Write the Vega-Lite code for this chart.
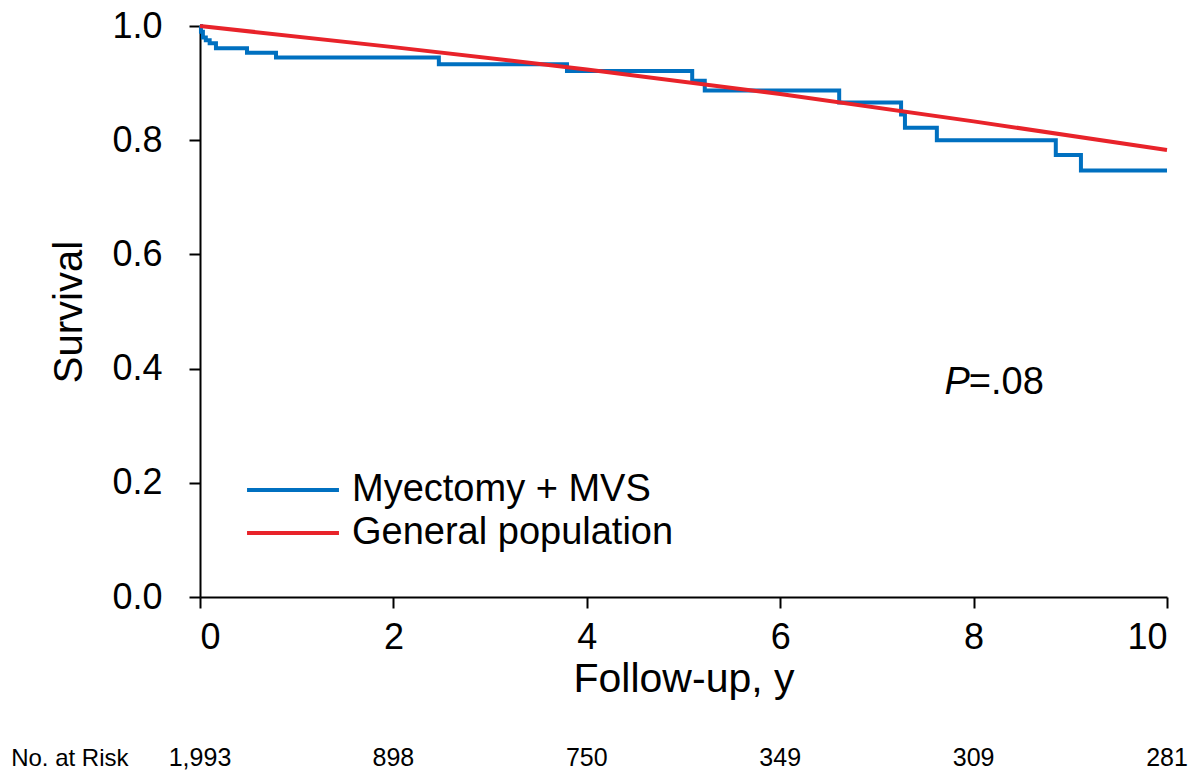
{
  "$schema": "https://vega.github.io/schema/vega-lite/v6.json",
  "background": "white",
  "padding": {"left": 10, "top": 8, "right": 0, "bottom": 0},
  "config": {
    "view": {"stroke": null},
    "font": "Liberation Sans",
    "axis": {"grid": false, "domainColor": "black", "domainWidth": 2, "tickColor": "black", "tickWidth": 2, "tickSize": 11, "labelColor": "black", "titleColor": "black", "labelFont": "Liberation Sans", "titleFont": "Liberation Sans", "titleFontWeight": "normal"}
  },
  "datasets": {
    "km": [
      {"t": 0, "s": 1.0},
      {"t": 0.01, "s": 0.99},
      {"t": 0.03, "s": 0.98},
      {"t": 0.06, "s": 0.975},
      {"t": 0.1, "s": 0.97},
      {"t": 0.165, "s": 0.961},
      {"t": 0.486, "s": 0.953},
      {"t": 0.786, "s": 0.945},
      {"t": 2.47, "s": 0.933},
      {"t": 3.795, "s": 0.921},
      {"t": 5.09, "s": 0.904},
      {"t": 5.22, "s": 0.887},
      {"t": 6.61, "s": 0.866},
      {"t": 7.25, "s": 0.845},
      {"t": 7.29, "s": 0.822},
      {"t": 7.62, "s": 0.8},
      {"t": 8.85, "s": 0.774},
      {"t": 9.11, "s": 0.747},
      {"t": 10.0, "s": 0.747}
    ],
    "pop": [
      {"t": 0, "s": 1.0},
      {"t": 2, "s": 0.963},
      {"t": 4, "s": 0.924},
      {"t": 6, "s": 0.881},
      {"t": 8, "s": 0.833},
      {"t": 10, "s": 0.783}
    ],
    "risk": [
      {"row": "No. at Risk", "t": 0, "n": "1,993"},
      {"row": "No. at Risk", "t": 2, "n": "898"},
      {"row": "No. at Risk", "t": 4, "n": "750"},
      {"row": "No. at Risk", "t": 6, "n": "349"},
      {"row": "No. at Risk", "t": 8, "n": "309"},
      {"row": "No. at Risk", "t": 10, "n": "281"}
    ]
  },
  "vconcat": [
    {
      "width": 967,
      "height": 571,
      "layer": [
        {
          "data": {"name": "km"},
          "transform": [{"calculate": "'Myectomy + MVS'", "as": "series"}],
          "mark": {"type": "line", "interpolate": "step-after", "strokeWidth": 4},
          "encoding": {
            "x": {"field": "t", "type": "quantitative", "scale": {"domain": [0, 10], "nice": false}, "axis": {"values": [0, 2, 4, 6, 8, 10], "format": "d", "title": "Follow-up, y", "labelFontSize": 36, "titleFontSize": 41, "labelPadding": 12, "titlePadding": 4}},
            "y": {"field": "s", "type": "quantitative", "scale": {"domain": [0, 1], "nice": false}, "axis": {"values": [0, 0.2, 0.4, 0.6, 0.8, 1.0], "format": ".1f", "title": "Survival", "labelFontSize": 36, "titleFontSize": 40, "labelPadding": 27, "titlePadding": 22}},
            "color": {"field": "series", "type": "nominal", "scale": {"domain": ["Myectomy + MVS", "General population"], "range": ["#0070C0", "#E8232A"]}, "legend": {"title": null, "orient": "none", "legendX": 74, "legendY": 445, "symbolType": "M -5 0 L 5 0", "symbolSize": 338, "symbolStrokeWidth": 4, "labelFontSize": 38, "labelColor": "black", "labelLimit": 0, "labelOffset": 40, "rowPadding": 5, "padding": 0}}
          }
        },
        {
          "data": {"name": "pop"},
          "transform": [{"calculate": "'General population'", "as": "series"}],
          "mark": {"type": "line", "strokeWidth": 4},
          "encoding": {
            "x": {"field": "t", "type": "quantitative"},
            "y": {"field": "s", "type": "quantitative"},
            "color": {"field": "series", "type": "nominal"}
          }
        },
        {
          "data": {"values": [{"label": "P"}]},
          "mark": {"type": "text", "align": "right", "baseline": "middle", "fontSize": 38, "fontStyle": "italic", "color": "black", "dx": 1},
          "encoding": {"x": {"datum": 7.95}, "y": {"datum": 0.375}, "text": {"field": "label"}}
        },
        {
          "data": {"values": [{"label": "=.08"}]},
          "mark": {"type": "text", "align": "left", "baseline": "middle", "fontSize": 38, "color": "black"},
          "encoding": {"x": {"datum": 7.95}, "y": {"datum": 0.375}, "text": {"field": "label"}}
        }
      ]
    },
    {
      "width": 967,
      "height": 30,
      "data": {"name": "risk"},
      "mark": {"type": "text", "fontSize": 25, "color": "black", "baseline": "middle"},
      "encoding": {
        "x": {"field": "t", "type": "quantitative", "scale": {"domain": [0, 10], "nice": false}, "axis": null},
        "y": {"field": "row", "type": "nominal", "axis": {"title": null, "domain": false, "ticks": false, "tickSize": 0, "labelFontSize": 24, "labelPadding": 72, "labelColor": "black"}},
        "text": {"field": "n"}
      }
    }
  ],
  "spacing": 44
}
